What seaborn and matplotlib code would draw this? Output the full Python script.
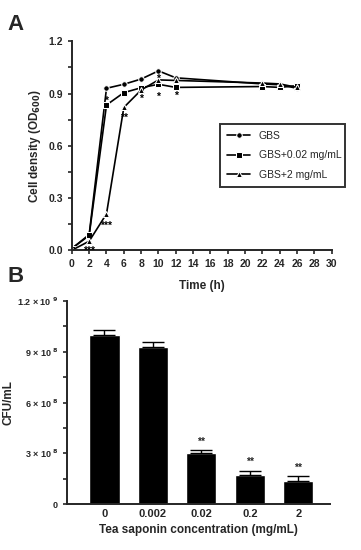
import numpy as np
import pandas as pd
import seaborn as sns
from matplotlib import pyplot as plt
from matplotlib.ticker import MultipleLocator

# panel A - growth curves
time_h = [0, 2, 4, 6, 8, 10, 12, 22, 24, 26]
od_gbs = [0.01, 0.09, 0.93, 0.953, 0.983, 1.03, 0.99, 0.955, 0.95, 0.93]
od_low = [0.01, 0.085, 0.834, 0.905, 0.933, 0.953, 0.935, 0.94, 0.935, 0.945]
od_high = [0.0, 0.052, 0.209, 0.82, 0.92, 0.978, 0.975, 0.96, 0.955, 0.935]
groups = ['GBS', 'GBS+0.02 mg/mL', 'GBS+2 mg/mL']

# significance marks for panel A (time, od, text)
star_t = [2, 4, 4, 6, 8, 10, 12, 10]
star_y = [-0.005, 0.14, 0.855, 0.76, 0.87, 0.88, 0.885, 0.985]
star_txt = ['***', '***', '*', '**', '*', '*', '*', '*']

# panel B - CFU counts
conc = ['0', '0.002', '0.02', '0.2', '2']
cfu = [1.0e9, 0.93e9, 0.30e9, 0.17e9, 0.138e9]
cfu_err = [0.03e9, 0.028e9, 0.02e9, 0.027e9, 0.028e9]
cfu_sig = ['', '', '**', '**', '**']

sns.set_style('ticks')
plt.rcParams['font.family'] = ['Liberation Sans', 'DejaVu Sans']
plt.rcParams['font.weight'] = 'bold'
plt.rcParams['axes.linewidth'] = 1.4

fig = plt.figure(figsize=(3.61, 5.5), dpi=100)
axA = fig.add_axes([0.199, 0.545, 0.72, 0.38])
axB = fig.add_axes([0.186, 0.0836, 0.728, 0.369])

df = pd.DataFrame({
    'time': time_h * 3,
    'od': od_gbs + od_low + od_high,
    'group': [g for g in groups for _ in time_h],
})
sns.lineplot(data=df, x='time', y='od', hue='group', style='group',
             markers=['o', 's', '^'], dashes=False, palette=['black'] * 3,
             markersize=4, linewidth=1.2, ax=axA)
for t, y, s in zip(star_t, star_y, star_txt):
    axA.text(t, y, s, ha='center', va='center', fontsize=7.5, color='black')

axA.set_xlim(0, 30)
axA.set_ylim(0, 1.2)
axA.xaxis.set_major_locator(MultipleLocator(2))
axA.yaxis.set_major_locator(MultipleLocator(0.3))
axA.yaxis.set_minor_locator(MultipleLocator(0.15))
axA.yaxis.set_major_formatter(plt.FormatStrFormatter('%.1f'))
axA.tick_params(labelsize=7.5, width=1.2, length=3)
axA.tick_params(which='minor', width=1.2, length=3)
axA.set_xlabel('Time (h)', fontsize=8.5, fontweight='bold', labelpad=8)
axA.set_ylabel('Cell density (OD$_{\\mathbf{600}}$)', fontsize=8.5, fontweight='bold')
sns.despine(ax=axA)
for lab in axA.get_xticklabels() + axA.get_yticklabels():
    lab.set_fontweight('bold')

leg = axA.legend(loc='lower left', bbox_to_anchor=(0.55, 0.278, 0.52, 0.33),
                 mode='expand', frameon=True, fancybox=False,
                 handlelength=2.2, borderpad=0.7, labelspacing=0.9,
                 prop={'size': 7.5, 'weight': 'normal'})
leg.get_frame().set_edgecolor('black')
leg.get_frame().set_linewidth(1.4)

# panel B
dfB = pd.DataFrame({'conc': conc, 'cfu': cfu})
sns.barplot(data=dfB, x='conc', y='cfu', color='black', width=0.62,
            errorbar=None, ax=axB)
xpos = np.arange(len(conc))
axB.errorbar(xpos, cfu, yerr=[np.zeros(len(cfu)), cfu_err], fmt='none',
             ecolor='black', elinewidth=1.0, capsize=8, capthick=1.0)
for x, v, e, s in zip(xpos, cfu, cfu_err, cfu_sig):
    if s:
        axB.text(x, v + e + 0.02e9, s, ha='center', va='bottom', fontsize=7.5)

axB.set_xlim(-0.77, 4.65)
axB.set_ylim(0, 1.2e9)
axB.set_yticks([0, 3e8, 6e8, 9e8, 1.2e9])
axB.set_yticklabels(['0', r'3 × 10$^{\ 8}$', r'6 × 10$^{\ 8}$',
                     r'9 × 10$^{\ 8}$', r'1.2 × 10$^{\ 9}$'], fontsize=6.5)
axB.yaxis.set_minor_locator(MultipleLocator(1.5e8))
axB.tick_params(axis='y', which='both', width=1.2, length=3)
axB.tick_params(axis='x', length=0, labelsize=8)
axB.set_xlabel('Tea saponin concentration (mg/mL)', fontsize=8.5, fontweight='bold')
axB.set_ylabel('CFU/mL', fontsize=8.5, fontweight='bold')
axB.yaxis.set_label_coords(-0.2, 0.5)
sns.despine(ax=axB)
for lab in axB.get_xticklabels():
    lab.set_fontweight('bold')

fig.text(0.02, 0.945, 'A', fontsize=16, fontweight='bold')
fig.text(0.02, 0.488, 'B', fontsize=16, fontweight='bold')

fig.savefig('out.png', dpi=100)
